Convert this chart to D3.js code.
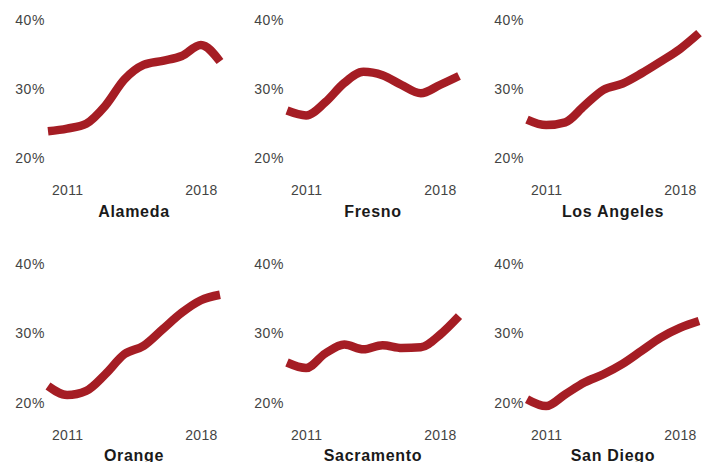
<!DOCTYPE html>
<html>
<head>
<meta charset="utf-8">
<script src="https://cdn.jsdelivr.net/npm/d3@7"></script>
<style>
  html, body { margin: 0; padding: 0; background: #fff; }
  svg text { font-family: "Liberation Sans", Arial, Helvetica, sans-serif; }
</style>
</head>
<body>
<svg id="chart" width="703" height="462"></svg>
<script>
const years = [2010, 2011, 2012, 2013, 2014, 2015, 2016, 2017, 2018, 2019];
const counties = ["Alameda", "Fresno", "Los Angeles", "Orange", "Sacramento", "San Diego"];
const alameda    = [23.9, 24.3, 25.0, 27.6, 31.4, 33.5, 34.1, 34.8, 36.4, 34.0];
const fresno     = [26.9, 26.2, 28.1, 30.9, 32.5, 32.0, 30.6, 29.4, 30.6, 31.9];
const losAngeles = [25.6, 24.8, 25.2, 27.6, 29.9, 30.8, 32.3, 34.0, 35.8, 38.1];
const orange     = [22.4, 21.1, 21.7, 24.1, 27.0, 28.2, 30.6, 33.0, 34.8, 35.6];
const sacramento = [25.8, 25.0, 27.1, 28.4, 27.7, 28.3, 27.9, 28.0, 29.8, 32.5];
const sanDiego   = [20.5, 19.5, 21.2, 22.9, 24.1, 25.6, 27.5, 29.4, 30.8, 31.8];
const seriesValues = [alameda, fresno, losAngeles, orange, sacramento, sanDiego];
const yTicks = [20, 30, 40];
const xTicks = [2011, 2018];

const svg = d3.select("#chart");
const colX = [48, 287, 527];
const panelW = 172;
const rowTop = [20, 264.3];
const panelH = 138.3;

counties.forEach((name, i) => {
  const col = i % 3, row = Math.floor(i / 3);
  const x = d3.scaleLinear().domain([2010, 2019]).range([colX[col], colX[col] + panelW]);
  const y = d3.scaleLinear().domain([20, 40]).range([rowTop[row] + panelH, rowTop[row]]);
  const g = svg.append("g");

  const yAxis = g.append("g")
    .attr("transform", `translate(${colX[col]},0)`)
    .call(d3.axisLeft(y).tickValues(yTicks).tickSize(0).tickPadding(3).tickFormat(d => d + "%"));
  yAxis.select(".domain").remove();
  yAxis.selectAll("text").attr("font-size", 14).attr("fill", "#444")
    .attr("letter-spacing", "0.6px");

  const xAxis = g.append("g")
    .attr("transform", `translate(0,${rowTop[row] + panelH + 32})`)
    .call(d3.axisBottom(x).tickValues(xTicks).tickSize(0).tickPadding(0).tickFormat(d3.format("d")));
  xAxis.select(".domain").remove();
  xAxis.selectAll("text").attr("font-size", 14).attr("fill", "#444").attr("dy", "0.35em")
    .attr("letter-spacing", "0.3px");

  const line = d3.line().x((d, k) => x(years[k])).y(d => y(d)).curve(d3.curveMonotoneX);
  g.append("path")
    .datum(seriesValues[i])
    .attr("d", line)
    .attr("fill", "none")
    .attr("stroke", "#a51d24")
    .attr("stroke-width", 8.5)
    .attr("stroke-linejoin", "round");

  g.append("text")
    .attr("x", colX[col] + panelW / 2)
    .attr("y", rowTop[row] + panelH + 53)
    .attr("dy", "0.35em")
    .attr("text-anchor", "middle")
    .attr("font-size", 16)
    .attr("font-weight", "bold")
    .attr("letter-spacing", "0.7px")
    .attr("fill", "#1a1a1a")
    .text(name);
});
</script>
</body>
</html>
